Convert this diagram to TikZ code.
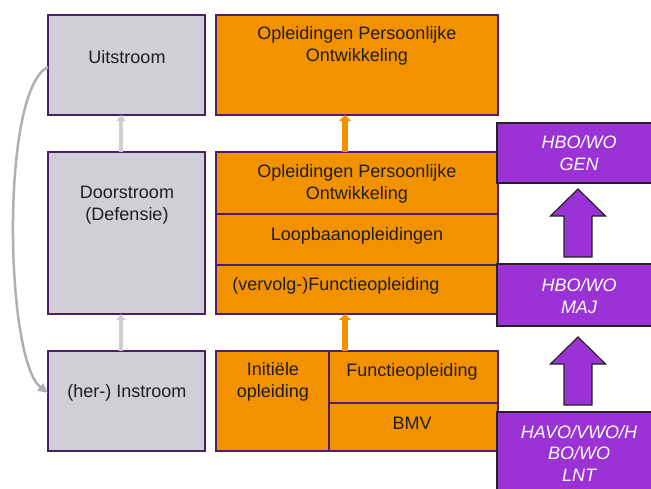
\documentclass[tikz,border=0pt]{standalone}
\usepackage{fontspec}
\setmainfont{Liberation Sans}
\usepgflibrary{arrows.meta}
\usetikzlibrary{positioning}

\definecolor{grijs}{RGB}{209,207,214}
\definecolor{grijspijl}{RGB}{206,204,212}
\definecolor{boogpijl}{RGB}{176,175,181}
\definecolor{oranje}{RGB}{243,146,0}
\definecolor{paars}{RGB}{155,50,214}
\definecolor{lijnpaars}{RGB}{75,30,110}
\definecolor{lijndonker}{RGB}{35,35,35}
\definecolor{tekst}{RGB}{30,30,30}

\begin{document}
\begin{tikzpicture}[x=1pt,y=-1pt,
  gray box/.style={rectangle,draw=lijnpaars,fill=grijs,line width=1.2pt,inner sep=0.,outer sep=0.},
  orange box/.style={rectangle,draw=lijnpaars,fill=oranje,line width=1.2pt,inner sep=0.,outer sep=0.},
  purple box/.style={rectangle,draw=lijndonker,fill=paars,line width=1.2pt,inner sep=0.,outer sep=0.},
  box text/.style={align=center,font=\fontsize{18}{21.5}\selectfont,text=tekst,inner sep=0.},
  purple text/.style={align=center,font=\fontsize{18}{21.5}\selectfont\itshape,text=white,inner sep=0.},
  gray arrow/.style={draw=grijspijl,line width=4.5pt,-{Triangle[width=9pt,length=6pt]}},
  orange arrow/.style={draw=oranje,line width=6pt,-{Triangle[width=12pt,length=6pt]}},
  bend arrow/.style={draw=boogpijl,line width=2.5pt,-{Triangle[width=9pt,length=10pt]}},
  block arrow/.style={draw=lijndonker,fill=paars,line width=1.2pt,line join=miter}]%
  \useasboundingbox (0,0) rectangle (651,488);
  \clip (0,0) rectangle (651,488);
  % linker kolom
  \node[gray box,minimum width=157pt,minimum height=100pt] (uit) at (126.5,65) {};
  \node[gray box,minimum width=157pt,minimum height=162pt] (door) at (126.5,233) {};
  \node[gray box,minimum width=157pt,minimum height=100pt] (in) at (126.5,401) {};
  \node[box text] (uittxt) at (127,57) {Uitstroom};
  \node[box text] (doortxt) at (127,205) {Doorstroom\\(Defensie)};
  \node[box text] (intxt) at (127,393) {(her-) Instroom};
  % middelste kolom
  \node[orange box,minimum width=282pt,minimum height=100pt] (opo) at (357,65) {};
  \node[orange box,minimum width=282pt,minimum height=62pt] (opotwee) at (357,183) {};
  \node[orange box,minimum width=282pt,minimum height=51pt] (loop) at (357,239.5) {};
  \node[orange box,minimum width=282pt,minimum height=49pt] (vervolg) at (357,289.5) {};
  \node[orange box,minimum width=113pt,minimum height=100pt] (init) at (272.5,401) {};
  \node[orange box,minimum width=169pt,minimum height=52pt] (functie) at (413.5,377) {};
  \node[orange box,minimum width=169pt,minimum height=48pt] (bmv) at (413.5,427) {};
  \node[box text] (opotxt) at (357,46) {Opleidingen Persoonlijke\\Ontwikkeling};
  \node[box text] (opotweetxt) at (357,184) {Opleidingen Persoonlijke\\Ontwikkeling};
  \node[box text] (looptxt) at (357,236) {Loopbaanopleidingen};
  \node[box text] (vervolgtxt) at (336,286) {(vervolg-)Functieopleiding};
  \node[box text] (inittxt) at (273,382) {Initiële\\opleiding};
  \node[box text] (functietxt) at (412,372) {Functieopleiding};
  \node[box text] (bmvtxt) at (412,423) {BMV};
  % rechter kolom
  \node[purple box,minimum width=164pt,minimum height=60pt] (gen) at (579,153) {};
  \node[purple box,minimum width=164pt,minimum height=62pt] (maj) at (579,295) {};
  \node[purple box,minimum width=164pt,minimum height=90pt] (lnt) at (579,457) {};
  \node[purple text] (gentxt) at (579,153) {HBO/WO\\GEN};
  \node[purple text] (majtxt) at (579,296) {HBO/WO\\MAJ};
  \node[purple text] (lnttxt) at (579,453) {HAVO/VWO/H\\BO/WO\\LNT};
  % pijlen
  \draw[gray arrow] ([xshift=-5.5pt]door.north) -- ([xshift=-5.5pt]uit.south);
  \draw[gray arrow] ([xshift=-5.5pt]in.north) -- ([xshift=-5.5pt]door.south);
  \draw[orange arrow] ([xshift=-12pt]opotwee.north) -- ([xshift=-12pt]opo.south);
  \draw[orange arrow] ([xshift=16pt]functie.north west) -- ([xshift=-12pt]vervolg.south);
  \draw[bend arrow] ([yshift=-2pt]uit.west) .. controls (0,90) and (5,360) .. ([yshift=8pt]in.west);
  \foreach \yt in {189,337}
    \draw[block arrow] (564,\yt+68) -- (564,\yt+27) -- (550.5,\yt+27) -- (578,\yt)
      -- (605.5,\yt+27) -- (592,\yt+27) -- (592,\yt+68) -- cycle;
\end{tikzpicture}
\end{document}
